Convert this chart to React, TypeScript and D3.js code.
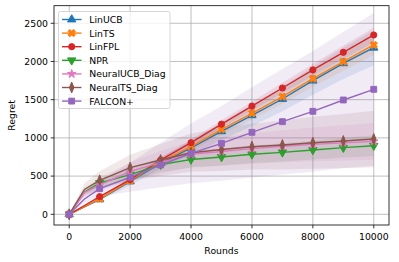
import React from "react";
import * as d3 from "d3";

// rounds at which the runs were logged (markers every 1000)
const rounds = [0, 500, 1000, 2000, 3000, 4000, 5000, 6000, 7000, 8000, 9000, 10000];

const linUCB = [0, 98, 195, 430, 670, 870, 1086, 1296, 1509, 1749, 1976, 2180];
const linTS = [0, 102, 203, 440, 685, 885, 1112, 1322, 1540, 1775, 1998, 2216];
const linFPL = [0, 115, 231, 455, 710, 937, 1180, 1416, 1653, 1889, 2120, 2347];
const npr = [0, 290, 410, 520, 650, 718, 750, 785, 811, 842, 872, 898];
const neuralUCB = [0, 285, 385, 560, 680, 786, 822, 860, 890, 915, 935, 955];
const neuralTS = [0, 325, 445, 610, 710, 806, 848, 885, 907, 937, 959, 985];
const falcon = [0, 200, 335, 485, 645, 798, 929, 1073, 1212, 1348, 1496, 1636];

// half widths of the shaded bands
const linUCBStd = [0, 12, 25, 50, 70, 95, 115, 140, 160, 185, 205, 230];
const linTSStd = [0, 8, 15, 30, 45, 55, 70, 80, 95, 105, 120, 130];
const linFPLStd = [0, 6, 12, 22, 32, 40, 50, 58, 68, 78, 88, 95];
const nprStd = [0, 40, 60, 80, 95, 105, 110, 115, 120, 125, 130, 135];
const neuralUCBStd = [0, 60, 90, 120, 150, 170, 185, 200, 210, 220, 230, 240];
const neuralTSStd = [0, 80, 120, 170, 210, 250, 280, 300, 320, 340, 355, 370];
const falconStd = [0, 55, 100, 190, 290, 390, 490, 590, 690, 790, 890, 1000];

const names = ["LinUCB", "LinTS", "LinFPL", "NPR", "NeuralUCB_Diag", "NeuralTS_Diag", "FALCON+"];
const colors = ["#1f77b4", "#ff7f0e", "#d62728", "#2ca02c", "#e377c2", "#8c564b", "#9467bd"];
const markers = ["tri", "x", "circle", "triDown", "star", "thinDiamond", "square"];

const xTicks = [0, 2000, 4000, 6000, 8000, 10000];
const yTicks = [0, 500, 1000, 1500, 2000, 2500];

const series = [
  { values: linUCB, std: linUCBStd },
  { values: linTS, std: linTSStd },
  { values: linFPL, std: linFPLStd },
  { values: npr, std: nprStd },
  { values: neuralUCB, std: neuralUCBStd },
  { values: neuralTS, std: neuralTSStd },
  { values: falcon, std: falconStd },
];

const FONT = "DejaVu Sans, sans-serif";
const FS = 9.3;

function markerPath(kind: string) {
  switch (kind) {
    case "tri":
      return d3.symbol(d3.symbolTriangle, 30)();
    case "triDown":
      return d3.symbol(d3.symbolTriangle, 30)();
    case "x":
      return d3.symbol(d3.symbolCross, 34)();
    case "circle":
      return d3.symbol(d3.symbolCircle, 30)();
    case "star":
      return d3.symbol(d3.symbolStar, 22)();
    case "thinDiamond":
      return d3.symbol(d3.symbolDiamond, 34)();
    default:
      return d3.symbol(d3.symbolSquare, 34)();
  }
}

function markerTransform(kind: string, x: number, y: number) {
  if (kind === "triDown") return `translate(${x},${y}) rotate(180)`;
  if (kind === "x") return `translate(${x},${y}) rotate(45)`;
  if (kind === "thinDiamond") return `translate(${x},${y}) scale(0.7,1)`;
  return `translate(${x},${y})`;
}

function Marker({ kind, x, y, color }: { kind: string; x: number; y: number; color: string }) {
  return (
    <path
      d={markerPath(kind) || ""}
      transform={markerTransform(kind, x, y)}
      fill={color}
      stroke={color}
      strokeWidth={1}
      vectorEffect="non-scaling-stroke"
    />
  );
}

export default function App() {
  const width = 399;
  const height = 262;
  const left = 54, right = 389, top = 5.7, bottom = 225;

  const x = d3.scaleLinear().domain([-500, 10500]).range([left, right]);
  const y = d3.scaleLinear().domain([-140, 2730]).range([bottom, top]);

  const line = d3
    .line<number>()
    .x((d, i) => x(rounds[i]))
    .y((d) => y(d));

  return (
    <svg
      width={width}
      height={height}
      style={{ position: "absolute", left: 0, top: 0, fontFamily: FONT }}
    >
      <rect x={0} y={0} width={width} height={height} fill="#fff" />
      <defs>
        <clipPath id="plot">
          <rect x={left} y={top} width={right - left} height={bottom - top} />
        </clipPath>
      </defs>

      {/* grid */}
      <g stroke="#b0b0b0" strokeWidth={0.8}>
        {xTicks.map((t) => (
          <line key={"gx" + t} x1={x(t)} x2={x(t)} y1={top} y2={bottom} />
        ))}
        {yTicks.map((t) => (
          <line key={"gy" + t} x1={left} x2={right} y1={y(t)} y2={y(t)} />
        ))}
      </g>

      <g clipPath="url(#plot)">
        {/* bands */}
        {series.map((s, k) => {
          const area = d3
            .area<number>()
            .x((d, i) => x(rounds[i]))
            .y0((d, i) => y(d - s.std[i]))
            .y1((d, i) => y(d + s.std[i]));
          return (
            <path key={"band" + k} d={area(s.values) || ""} fill={colors[k]} fillOpacity={0.13} stroke="none" />
          );
        })}
        {/* lines + markers */}
        {series.map((s, k) => (
          <g key={"s" + k}>
            <path d={line(s.values) || ""} fill="none" stroke={colors[k]} strokeWidth={1.4} />
            {s.values.map((v, i) =>
              rounds[i] % 1000 === 0 ? (
                <Marker key={i} kind={markers[k]} x={x(rounds[i])} y={y(v)} color={colors[k]} />
              ) : null
            )}
          </g>
        ))}
      </g>

      {/* spines */}
      <rect x={left} y={top} width={right - left} height={bottom - top} fill="none" stroke="#000" strokeWidth={0.8} />

      {/* x axis */}
      {xTicks.map((t) => (
        <g key={"xt" + t}>
          <line x1={x(t)} x2={x(t)} y1={bottom} y2={bottom + 3.3} stroke="#000" strokeWidth={0.8} />
          <text x={x(t)} y={bottom + 15} textAnchor="middle" fontSize={FS} fill="#000">
            {t}
          </text>
        </g>
      ))}
      {yTicks.map((t) => (
        <g key={"yt" + t}>
          <line x1={left - 3.3} x2={left} y1={y(t)} y2={y(t)} stroke="#000" strokeWidth={0.8} />
          <text x={left - 6} y={y(t) + 3.4} textAnchor="end" fontSize={FS} fill="#000">
            {t}
          </text>
        </g>
      ))}
      <text x={(left + right) / 2} y={253.5} textAnchor="middle" fontSize={FS} fill="#000">
        Rounds
      </text>
      <text
        transform={`translate(15,${(top + bottom) / 2}) rotate(-90)`}
        textAnchor="middle"
        fontSize={FS}
        fill="#000"
      >
        Regret
      </text>

      {/* legend */}
      <g>
        <rect x={58.5} y={11.5} width={111.5} height={97} rx={2} fill="#fff" fillOpacity={0.8} stroke="#cccccc" strokeWidth={0.8} />
        {names.map((n, k) => {
          const ly = 19.5 + k * 13.6;
          return (
            <g key={"lg" + n}>
              <line x1={62} x2={81.5} y1={ly} y2={ly} stroke={colors[k]} strokeWidth={1.4} />
              <Marker kind={markers[k]} x={71.7} y={ly} color={colors[k]} />
              <text x={89.3} y={ly + 3.4} fontSize={FS} fill="#000">
                {n}
              </text>
            </g>
          );
        })}
      </g>
    </svg>
  );
}
